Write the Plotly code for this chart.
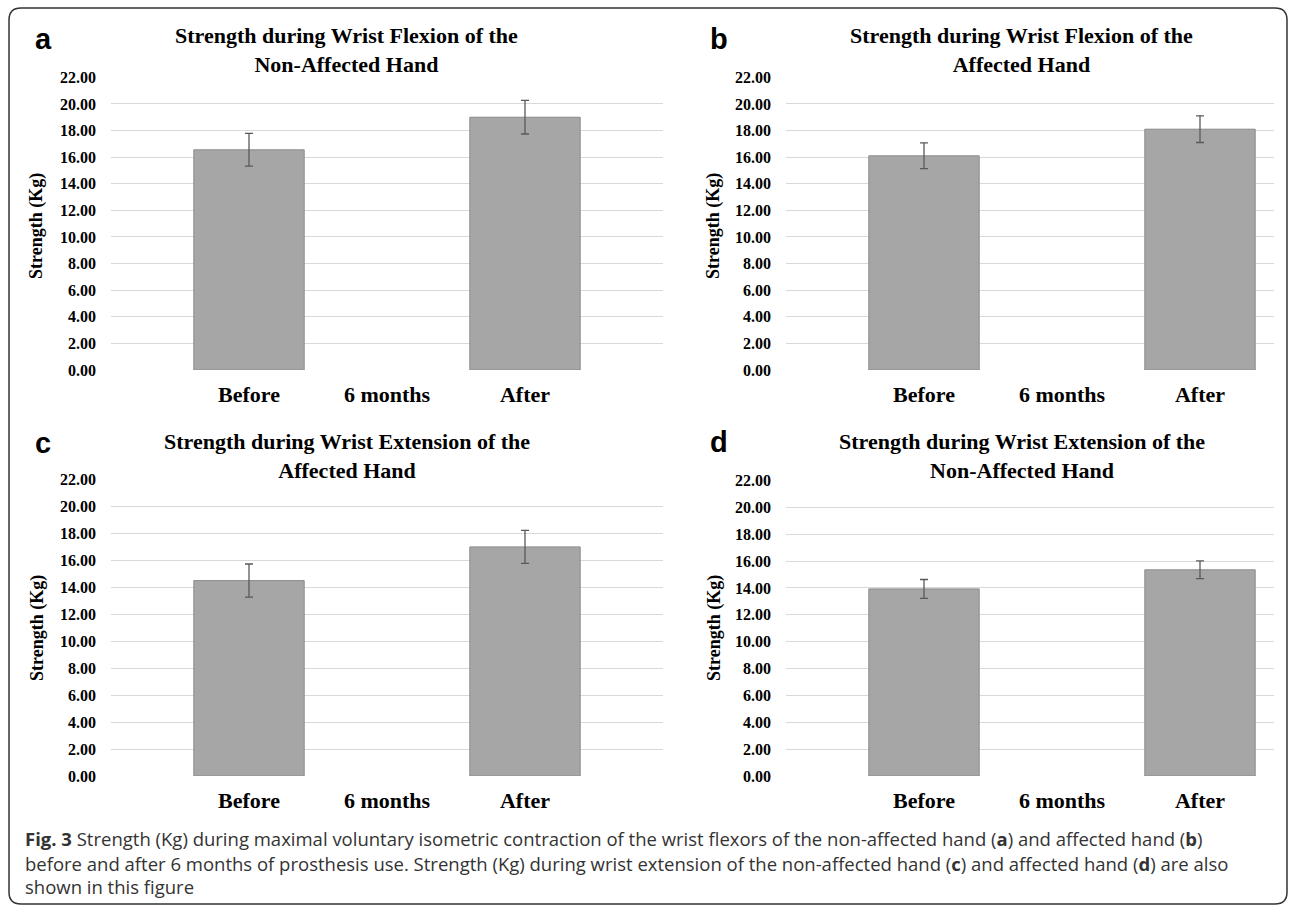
import plotly.graph_objects as go

W, H = 1290, 906

categories = ["Before", "6 months", "After"]

# mean values (Kg) per panel; None for the empty "6 months" slot
vals_a = [16.55, None, 19.00]
err_a = [1.23, 0, 1.26]
vals_b = [16.10, None, 18.10]
err_b = [0.97, 0, 1.00]
vals_c = [14.50, None, 17.00]
err_c = [1.23, 0, 1.22]
vals_d = [13.93, None, 15.35]
err_d = [0.70, 0, 0.66]

y_ticks = [0, 2, 4, 6, 8, 10, 12, 14, 16, 18, 20, 22]

titles = {
    "a": "Strength during Wrist Flexion of the<br>Non-Affected Hand",
    "b": "Strength during Wrist Flexion of the<br>Affected Hand",
    "c": "Strength during Wrist Extension of the<br>Affected Hand",
    "d": "Strength during Wrist Extension of the<br>Non-Affected Hand",
}
y_title = "Strength (Kg)"

caption_lines = [
    "<b>Fig. 3</b> Strength (Kg) during maximal voluntary isometric contraction of the wrist flexors of the non-affected hand (<b>a</b>) and affected hand (<b>b</b>)",
    "before and after 6 months of prosthesis use. Strength (Kg) during wrist extension of the non-affected hand (<b>c</b>) and affected hand (<b>d</b>) are also",
    "shown in this figure",
]

BAR = "#a6a6a6"
BAR_LINE = "#8c8c8c"
ERR = "#595959"
GRID = "#d9d9d9"
SERIF = "Liberation Serif"

def px_x(p):
    return p / W

def px_y(p):
    return 1 - p / H

# panel geometry (pixels): x0, x1, y_top(22), y_bottom(0)
panels = {
    "a": dict(vals=vals_a, err=err_a, x0=111, x1=663, yt=77.3, yb=370, n=""),
    "b": dict(vals=vals_b, err=err_b, x0=786, x1=1274, yt=77.3, yb=370, n="2"),
    "c": dict(vals=vals_c, err=err_c, x0=111, x1=663, yt=479.5, yb=776, n="3"),
    "d": dict(vals=vals_d, err=err_d, x0=786, x1=1274, yt=480.5, yb=776, n="4"),
}

fig = go.Figure()
layout = dict(
    width=W, height=H,
    margin=dict(l=0, r=0, t=0, b=0),
    paper_bgcolor="white", plot_bgcolor="white",
    showlegend=False,
)

for key, p in panels.items():
    n = p["n"]
    fig.add_trace(go.Bar(
        x=categories, y=p["vals"], width=0.8,
        marker=dict(color=BAR, line=dict(color=BAR_LINE, width=1)),
        error_y=dict(type="data", array=p["err"], visible=True,
                     color=ERR, thickness=1.3, width=4),
        xaxis="x" + n, yaxis="y" + n,
        hoverinfo="skip",
    ))
    unit = 138.0
    right = -1 + (p["x1"] - p["x0"]) / unit
    layout["xaxis" + n] = dict(
        domain=[px_x(p["x0"]), px_x(p["x1"])],
        anchor="y" + n,
        type="category",
        categoryorder="array", categoryarray=categories,
        range=[-1, right],
        showgrid=False, zeroline=False, showline=False,
        ticks="", ticklabelstandoff=9, automargin=False,
        tickfont=dict(family=SERIF, size=22, color="#000", weight=700),
    )
    layout["yaxis" + n] = dict(
        domain=[px_y(p["yb"]), px_y(p["yt"])],
        anchor="x" + n,
        range=[0, 22],
        tickvals=y_ticks, tickformat=".2f",
        showgrid=True, gridcolor=GRID, gridwidth=1.3,
        zeroline=False, showline=False, ticks="",
        ticklabelstandoff=14, automargin=False,
        tickfont=dict(family=SERIF, size=16, color="#000", weight=700),
    )

fig.update_layout(**layout)

annotations = []
title_pos = {"a": (346, 50), "b": (1021, 50), "c": (347, 456), "d": (1022, 456)}
for k, (x, y) in title_pos.items():
    annotations.append(dict(
        text="<b>" + titles[k] + "</b>", x=px_x(x), y=px_y(y),
        xref="paper", yref="paper", xanchor="center", yanchor="middle",
        showarrow=False, align="center",
        font=dict(family=SERIF, size=22, color="#000"),
    ))

letter_pos = {"a": (43, 39), "b": (719, 39), "c": (43, 443), "d": (719, 442)}
for k, (x, y) in letter_pos.items():
    annotations.append(dict(
        text="<b>" + k + "</b>", x=px_x(x), y=px_y(y),
        xref="paper", yref="paper", xanchor="center", yanchor="middle",
        showarrow=False,
        font=dict(family="Liberation Sans", size=29, color="#000"),
    ))

ytitle_pos = {"a": (37, 226), "b": (714, 226), "c": (37, 628), "d": (714, 628)}
for k, (x, y) in ytitle_pos.items():
    annotations.append(dict(
        text="<b>" + y_title + "</b>", x=px_x(x), y=px_y(y),
        xref="paper", yref="paper", xanchor="center", yanchor="middle",
        showarrow=False, textangle=-90,
        font=dict(family=SERIF, size=18, color="#000"),
    ))

cap_y = [838, 863, 886]
for line, y in zip(caption_lines, cap_y):
    annotations.append(dict(
        text=line, x=px_x(23), y=px_y(y),
        xref="paper", yref="paper", xanchor="left", yanchor="middle",
        showarrow=False, align="left",
        font=dict(family="Open Sans", size=18.5, color="#333"),
    ))

fig.update_layout(annotations=annotations)

# rounded border around the whole figure
x0, x1, y0, y1 = 9, 1287, 8, 904
r = 12
rx, ry = r / W, r / H
X0, X1 = px_x(x0), px_x(x1)
Y0, Y1 = px_y(y0), px_y(y1)
path = (
    f"M {X0 + rx},{Y0} L {X1 - rx},{Y0} Q {X1},{Y0} {X1},{Y0 - ry} "
    f"L {X1},{Y1 + ry} Q {X1},{Y1} {X1 - rx},{Y1} "
    f"L {X0 + rx},{Y1} Q {X0},{Y1} {X0},{Y1 + ry} "
    f"L {X0},{Y0 - ry} Q {X0},{Y0} {X0 + rx},{Y0} Z"
)
fig.add_shape(type="path", path=path, xref="paper", yref="paper",
              line=dict(color="#333", width=1.5))

fig.write_html(
    "out.html",
    config={"displayModeBar": False},
    post_script="document.body.style.margin='0';document.body.style.overflow='hidden';",
)
